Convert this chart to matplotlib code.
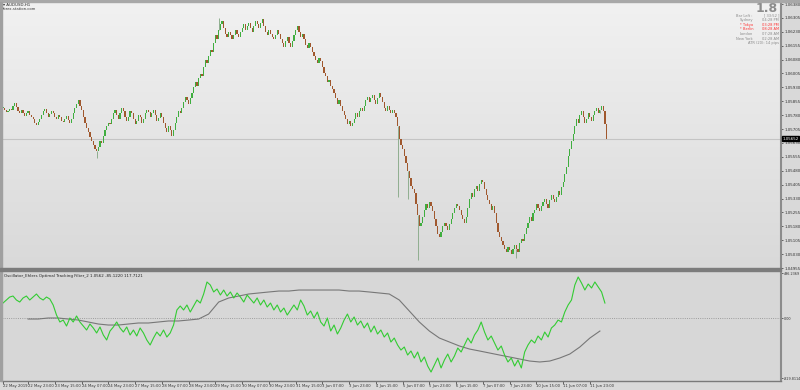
import numpy as np
import matplotlib
matplotlib.use('Agg')
import matplotlib.pyplot as plt
from matplotlib.colors import LinearSegmentedColormap
from matplotlib.transforms import blended_transform_factory

# AUDUSD H1 closes, in points (price = 1 + pts / 100000)
close_pts = [
    5820, 5810, 5798, 5805, 5815, 5808, 5830, 5845, 5825, 5800, 5790, 5810,
    5790, 5775, 5790, 5805, 5780, 5770, 5760, 5740, 5725, 5745, 5760, 5780,
    5800, 5815, 5790, 5770, 5785, 5800, 5790, 5770, 5760, 5780, 5770, 5750,
    5745, 5760, 5775, 5755, 5740, 5760, 5790, 5820, 5840, 5860, 5830, 5810,
    5770, 5740, 5710, 5690, 5660, 5640, 5620, 5600, 5585, 5610, 5640, 5630,
    5670, 5700, 5720, 5740, 5730, 5760, 5790, 5810, 5780, 5760, 5790, 5820,
    5800, 5770, 5750, 5770, 5800, 5790, 5760, 5730, 5750, 5780, 5770, 5740,
    5760, 5790, 5810, 5795, 5770, 5790, 5810, 5780, 5750, 5765, 5790, 5770,
    5740, 5710, 5690, 5720, 5700, 5670, 5700, 5740, 5770, 5800, 5790, 5820,
    5850, 5880, 5860, 5840, 5870, 5900, 5930, 5960, 5940, 5980, 6000, 5990,
    6040, 6080, 6060, 6100, 6130, 6120, 6170, 6210, 6190, 6240, 6270, 6290,
    6250, 6220, 6200, 6230, 6210, 6190, 6210, 6240, 6220, 6200, 6230, 6250,
    6270, 6240, 6260, 6280, 6250, 6230, 6260, 6290, 6270, 6250, 6280, 6300,
    6260, 6230, 6210, 6240, 6220, 6200, 6190, 6210, 6240, 6220, 6190, 6170,
    6150, 6180, 6200, 6170, 6150, 6180, 6210, 6240, 6260, 6230, 6200, 6220,
    6190, 6160, 6140, 6170, 6150, 6120, 6100, 6080, 6060, 6090, 6070, 6040,
    6010, 5990, 5960, 5970, 5940, 5920, 5900, 5870, 5840, 5860, 5830, 5800,
    5780, 5760, 5730, 5750, 5720, 5740, 5760, 5790, 5770, 5800, 5820, 5800,
    5830, 5860, 5880, 5850, 5870, 5890, 5860, 5840, 5870, 5900, 5880, 5850,
    5820, 5800, 5830, 5810, 5790, 5810, 5790, 5770, 5720, 5650, 5620, 5600,
    5560, 5520, 5480, 5440, 5400, 5380, 5360, 5300, 5240, 5180, 5200, 5230,
    5270, 5300, 5280, 5310, 5290, 5260, 5220, 5180, 5140, 5120, 5150, 5180,
    5200, 5180, 5160, 5190, 5220, 5250, 5280, 5300, 5290, 5270, 5240, 5220,
    5200, 5230, 5280, 5330, 5360, 5340, 5380, 5400, 5370, 5410, 5430, 5420,
    5380, 5350, 5320, 5300, 5270, 5290, 5250, 5200, 5150, 5120, 5100, 5080,
    5060, 5040, 5070, 5050, 5030, 5060, 5080, 5060, 5040, 5090, 5110, 5100,
    5140, 5170, 5200, 5230, 5210, 5250, 5270, 5300, 5280, 5260, 5290, 5310,
    5330, 5300, 5280, 5320, 5350, 5330, 5310, 5340, 5370, 5350, 5390, 5420,
    5460, 5500, 5560, 5600, 5640, 5680, 5720, 5760, 5740, 5780, 5800, 5770,
    5740, 5760, 5790, 5770, 5750, 5780, 5800, 5820, 5790, 5810, 5830, 5800,
    5730, 5652,
]
# bars with long wicks and the extreme they reach (points)
spike_bar = [56, 129, 236, 242, 248, 307, 357]
spike_pts = [5549, 6304, 5338, 5330, 4998, 5009, 5808]

# oscillator (one value every 2 bars) and its slow line (every 6 bars from bar 15)
green_osc = [
    207, 249, 290, 304, 249, 221, 277, 304, 249, 290, 332, 277,
    249, 290, 263, 180, 41, -55, -28, -111, 0, -55, 28, -55,
    -111, -166, -83, -138, -207, -124, -235, -304, -180, -124, -55, -138,
    -194, -124, -235, -166, -249, -138, -207, -304, -373, -277, -194, -249,
    -166, -263, -207, -97, 111, 166, 111, 180, 83, 166, 249, 207,
    332, 498, 456, 360, 401, 318, 387, 304, 360, 277, 346, 290,
    221, 318, 263, 207, 277, 180, 249, 152, 207, 111, 180, 83,
    138, 41, 111, 180, 111, 249, 166, 41, 97, 0, 83, -55,
    -111, 0, -180, -97, -221, -138, -28, 55, -55, 14, -97, -41,
    -138, -69, -194, -111, -221, -166, -263, -207, -332, -277, -373, -443,
    -401, -512, -456, -553, -470, -608, -539, -664, -747, -650, -553, -691,
    -581, -498, -608, -526, -415, -470, -373, -277, -346, -235, -166, -55,
    -194, -304, -249, -346, -443, -387, -512, -608, -553, -664, -581, -691,
    -470, -373, -304, -346, -249, -304, -194, -263, -138, -97, -28, -55,
    83, 180, 249, 456, 567, 484, 387, 470, 415, 498, 429, 360,
    207,
]
gray_start = 15
gray_osc = [
    -14, -14, 0, 0, -14, -28, -55, -83, -97, -97, -83, -69, -69, -55, -41,
    -41, -28, -14, 55, 221, 277, 304, 332, 346, 360, 373, 373, 387, 387, 387,
    387, 387, 373, 373, 360, 346, 332, 249, 97, -55, -180, -277, -332, -387,
    -429, -456, -484, -512, -539, -567, -595, -608, -595, -553, -498, -401,
    -277, -180,
]

price_ticks = [1.04955, 1.05030, 1.05105, 1.05180, 1.05255, 1.05330, 1.05405,
               1.05480, 1.05555, 1.05630, 1.05705, 1.05780, 1.05855, 1.05930,
               1.06005, 1.06080, 1.06155, 1.06230, 1.06305, 1.06380]
last_price = 1.05652

date_bars = [0, 15, 31, 47, 63, 79, 95, 111, 127, 143, 159, 175, 191, 207,
             223, 239, 255, 271, 287, 303, 319, 335, 351]
date_labels = ['22 May 2019', '22 May 23:00', '23 May 15:00', '24 May 07:00',
               '24 May 23:00', '27 May 15:00', '28 May 07:00', '28 May 23:00',
               '29 May 15:00', '30 May 07:00', '30 May 23:00', '31 May 15:00',
               '3 Jun 07:00', '3 Jun 23:00', '4 Jun 15:00', '5 Jun 07:00',
               '5 Jun 23:00', '6 Jun 15:00', '7 Jun 07:00', '7 Jun 23:00',
               '10 Jun 15:00', '11 Jun 07:00', '11 Jun 23:00']

osc_labels = ['496.2369', '0.00', '-829.8114']
osc_label_pos = [622, 0, -829.8114]

info_rows = [('Bar Left :', '[ 33:52 ]', '#8a8a8a'),
             ('Sydney', '04:28 PM', '#8a8a8a'),
             ('* Tokyo', '03:28 PM', '#ff3030'),
             ('* Berlin', '08:28 AM', '#ff3030'),
             ('London', '07:28 AM', '#8a8a8a'),
             ('New York', '02:28 AM', '#8a8a8a')]

W, H = 800, 390
def fx(px):
    return px / W
def fy(py):
    return 1 - py / H

fs = 2.9  # MT4 tiny label font

fig = plt.figure(figsize=(8, 3.9), dpi=100, facecolor='#d9d9d9')

x_lo = -0.6
x_hi = x_lo + 779 / 1.672

ax = fig.add_axes([fx(2), fy(268), 779 / W, 265 / H])
osc = fig.add_axes([fx(2), fy(381), 779 / W, 110 / H])

grad = LinearSegmentedColormap.from_list('bg', ['#d9d9d9', '#f1f1f1'])
ax.imshow(np.linspace(0, 1, 256).reshape(-1, 1), cmap=grad, origin='lower',
          extent=[0, 1, 0, 1], transform=ax.transAxes, aspect='auto', zorder=0)
osc.set_facecolor('#d7d7d7')

# candles
c = np.array(close_pts) / 1e5 + 1
o = np.r_[c[0], c[:-1]]
idx = np.arange(len(c))
up = c >= o
lo = np.minimum(o, c)
hi = np.maximum(o, c)
h = np.maximum(hi - lo, 0.00002)
ax.bar(idx, h, bottom=lo, width=0.7, color=np.where(up, '#3fae3f', '#a0582e'),
       linewidth=0, zorder=3)
for b, p in zip(spike_bar, spike_pts):
    p = 1 + p / 1e5
    if p > hi[b]:
        ax.vlines(b, hi[b], p, color='#8fae8f', lw=0.7, zorder=2)
    else:
        ax.vlines(b, p, lo[b], color='#8fae8f', lw=0.7, zorder=2)

ax.axhline(last_price, color='#c4c4c4', lw=0.8, zorder=1)

ax.set_xlim(x_lo, x_hi)
ax.set_ylim(1.04955, 1.063854)
ax.set_xticks([])
ax.yaxis.tick_right()
ax.set_yticks(price_ticks, ['%.5f' % t for t in price_ticks])
ax.tick_params(axis='y', length=1.5, width=0.5, labelsize=fs, pad=0.8,
               colors='#333333')
for s in ['top', 'left', 'bottom']:
    ax.spines[s].set_visible(False)
ax.spines['right'].set_color('#8c8c8c')
ax.spines['right'].set_linewidth(1.5)

tr = blended_transform_factory(ax.transAxes, ax.transData)
ax.text(1.002, last_price, '%.5f' % last_price, transform=tr, fontsize=fs,
        color='white', va='center', ha='left', zorder=5,
        bbox=dict(boxstyle='square,pad=0.12', fc='black', ec='black'))

# oscillator
gx = np.arange(len(green_osc)) * 2
osc.plot(gx, green_osc, color='#33cc33', lw=0.8, zorder=3)
sx = gray_start + np.arange(len(gray_osc)) * 6
osc.plot(sx, gray_osc, color='#777777', lw=0.8, zorder=2)
osc.axhline(0, color='#8a8a8a', ls=':', lw=0.6, zorder=1)
osc.set_xlim(x_lo, x_hi)
osc.set_ylim(-871, 650)
osc.yaxis.tick_right()
osc.set_yticks(osc_label_pos, osc_labels)
osc.tick_params(axis='y', length=1.2, width=0.5, labelsize=2.4, pad=0.5,
                colors='#333333')
osc.set_xticks(date_bars, date_labels)
osc.tick_params(axis='x', length=2, width=0.5, labelsize=2.7, pad=0.5,
                colors='#333333')
for lab in osc.get_xticklabels():
    lab.set_ha('left')
for s in ['top', 'left']:
    osc.spines[s].set_visible(False)
osc.spines['right'].set_color('#8c8c8c')
osc.spines['right'].set_linewidth(1.5)
osc.spines['bottom'].set_color('#7a7a7a')
osc.spines['bottom'].set_linewidth(1.0)
osc.text(0.003, 0.97, 'Oscillator_Ehlers Optimal Tracking Filter_2 1.0562 -85.1220 117.7121',
         transform=osc.transAxes, fontsize=fs, color='#222222', va='top')

# frame pieces
fig.patches.append(plt.Rectangle((0, fy(2)), 1, 2 / H, transform=fig.transFigure,
                                 color='#a8a8a8', zorder=10))
fig.patches.append(plt.Rectangle((0, fy(381)), fx(1.5), 379 / H,
                                 transform=fig.transFigure, color='#a0a0a0', zorder=10))
fig.patches.append(plt.Rectangle((0, fy(271)), fx(781), 3 / H,
                                 transform=fig.transFigure, color='#7c7c7c', zorder=10))

# header texts
fig.text(fx(3), fy(4.5), '\u25be AUDUSD,H1', fontsize=2.9, color='#222222', va='center')
fig.text(fx(3), fy(8.5), 'forex-station.com', fontsize=2.7, color='#333333', va='center')

fig.text(fx(778), fy(8), '1.8', fontsize=9, color='#8c8c8c', ha='right',
         va='center', fontweight='bold')
for k, (name, val, col) in enumerate(info_rows):
    y = 15.7 + k * 4.6
    fig.text(fx(753), fy(y), name, fontsize=2.6, color=col, ha='right', va='center')
    fig.text(fx(779), fy(y), val, fontsize=2.6, color=col, ha='right', va='center')
fig.text(fx(779), fy(43.3), 'ATR (20): 14 pips', fontsize=2.6, color='#8a8a8a',
         ha='right', va='center')

fig.savefig('out.png', dpi=100, facecolor=fig.get_facecolor())
